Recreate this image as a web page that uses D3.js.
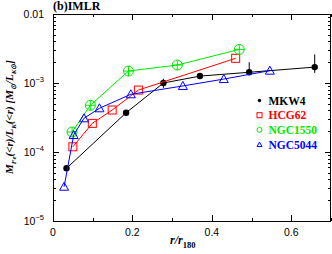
<!DOCTYPE html>
<html>
<head>
<meta charset="utf-8">
<script src="https://cdn.jsdelivr.net/npm/d3@7"></script>
<style>
	body { margin: 0; background: #fff; }
	svg { display: block; }
</style>
</head>
<body>
<div id="chart"></div>
<script>
	'use strict';

	// values
	var xTicks = [0, 0.2, 0.4, 0.6];
	var yTicks = [1e-5, 1e-4, 1e-3, 1e-2];
	var yTickLabels = ['10', '10', '10', '0.01'];
	var yTickExps = ['\u22125', '\u22124', '\u22123', ''];

	var mkw4R = [0.034, 0.184, 0.278, 0.37, 0.494, 0.659];
	var mkw4V = [5.8e-5, 3.7e-4, 1.0e-3, 1.26e-3, 1.43e-3, 1.7e-3];
	var mkw4Lo = [5.3e-5, 3.4e-4, 8.5e-4, 1.14e-3, 1.3e-3, 1.4e-3];
	var mkw4Hi = [6.4e-5, 4.0e-4, 1.15e-3, 1.38e-3, 2.0e-3, 2.6e-3];

	var hcgR = [0.05, 0.099, 0.149, 0.215, 0.46];
	var hcgV = [1.19e-4, 2.6e-4, 4.06e-4, 7.9e-4, 2.28e-3];

	var ngc1550R = [0.048, 0.094, 0.19, 0.313, 0.469];
	var ngc1550V = [1.95e-4, 4.75e-4, 1.49e-3, 1.82e-3, 3.07e-3];

	var ngc5044R = [0.028, 0.052, 0.078, 0.117, 0.196, 0.327, 0.43, 0.546];
	var ngc5044V = [3.14e-5, 1.76e-4, 3.08e-4, 4.3e-4, 6.86e-4, 9.06e-4, 1.14e-3, 1.51e-3];

	var legendNames = ['MKW4', 'HCG62', 'NGC1550', 'NGC5044'];
	var legendColors = ['#000000', '#ff0000', '#00e600', '#0000ff'];

	(function () {
		var width = 332, height = 254;
		var mLeft = 53, mRight = 331, mTop = 14, mBottom = 221;

		var svg = d3.select('#chart').append('svg')
			.attr('width', width)
			.attr('height', height);

		var x = d3.scaleLinear().domain([0, 0.7]).range([mLeft, mRight]);
		var y = d3.scaleLog().domain([1e-5, 1e-2]).range([mBottom, mTop]);

		var sans = 'Liberation Sans, Arial, sans-serif';
		var serif = 'Liberation Serif, Times New Roman, serif';

		// ticks, all pointing inward, mirrored on top / right
		var tk = svg.append('g').attr('stroke', '#000').attr('stroke-width', 1);
		x.ticks(7).forEach(function (v, i) {
			var len = (i % 2 === 0) ? 6 : 3;
			var px = Math.round(x(v)) + 0.5;
			tk.append('line').attr('x1', px).attr('x2', px).attr('y1', mBottom).attr('y2', mBottom - len);
			tk.append('line').attr('x1', px).attr('x2', px).attr('y1', mTop).attr('y2', mTop + len);
		});
		y.ticks().forEach(function (v) {
			var m = Math.round(v / Math.pow(10, Math.floor(Math.log10(v) + 1e-9)));
			var len = m === 1 ? 6 : 3;
			var py = Math.round(y(v)) + 0.5;
			tk.append('line').attr('x1', mLeft).attr('x2', mLeft + len).attr('y1', py).attr('y2', py);
			tk.append('line').attr('x1', mRight).attr('x2', mRight - len).attr('y1', py).attr('y2', py);
		});

		svg.append('rect')
			.attr('x', mLeft + 0.5).attr('y', mTop + 0.5)
			.attr('width', mRight - mLeft - 1).attr('height', mBottom - mTop)
			.attr('fill', 'none').attr('stroke', '#000').attr('stroke-width', 1);

		// tick labels
		svg.append('g').selectAll('text').data(xTicks).enter().append('text')
			.attr('x', function (d) { return x(d); })
			.attr('y', 236)
			.attr('text-anchor', 'middle')
			.style('font-family', sans).style('font-size', '10.5px')
			.text(function (d) { return d === 0 ? '0' : d3.format('.1f')(d); });

		var yl = svg.append('g').selectAll('text').data(yTicks).enter().append('text')
			.attr('x', 44)
			.attr('y', function (d) { return y(d) + 4; })
			.attr('text-anchor', 'end')
			.style('font-family', sans).style('font-size', '10.5px');
		yl.append('tspan').text(function (d, i) { return yTickLabels[i]; });
		yl.append('tspan').attr('dy', -5).style('font-size', '7.5px')
			.text(function (d, i) { return yTickExps[i]; });

		// axis titles
		var xt = svg.append('text')
			.attr('x', 170).attr('y', 244)
			.style('font-family', serif).style('font-size', '12px')
			.style('font-style', 'italic').style('font-weight', 'bold');
		xt.append('tspan').text('r/r');
		xt.append('tspan').attr('dy', 4).style('font-size', '8.5px').style('font-style', 'normal').text('180');

		var yt = svg.append('text')
			.attr('transform', 'translate(13,117) rotate(-90)')
			.attr('text-anchor', 'middle')
			.style('font-family', serif).style('font-size', '11px')
			.style('font-style', 'italic').style('font-weight', 'bold');
		yt.append('tspan').text('M');
		yt.append('tspan').attr('dy', 3).style('font-size', '7px').text('Fe');
		yt.append('tspan').attr('dy', -3).text('(<r)/L');
		yt.append('tspan').attr('dy', 3).style('font-size', '7px').text('K');
		yt.append('tspan').attr('dy', -3).text('(<r) [M');
		yt.append('tspan').attr('dy', 3).style('font-size', '7px').text('\u2299');
		yt.append('tspan').attr('dy', -3).text('/L');
		yt.append('tspan').attr('dy', 3).style('font-size', '7px').text('K\u2299');
		yt.append('tspan').attr('dy', -3).text(']');

		svg.append('text')
			.attr('x', 53).attr('y', 10)
			.style('font-family', serif).style('font-size', '12px').style('font-weight', 'bold')
			.text('(b)IMLR');

		var line = d3.line()
			.x(function (d) { return x(d[0]); })
			.y(function (d) { return y(d[1]); });

		function pairs(r, v) { return r.map(function (d, i) { return [d, v[i]]; }); }

		var plot = svg.append('g');

		// MKW4
		var mk = pairs(mkw4R, mkw4V);
		plot.append('path').attr('d', line(mk)).attr('fill', 'none').attr('stroke', legendColors[0]).attr('stroke-width', 1);
		plot.selectAll('.err').data(mk).enter().append('line')
			.attr('x1', function (d) { return x(d[0]); })
			.attr('x2', function (d) { return x(d[0]); })
			.attr('y1', function (d, i) { return y(mkw4Lo[i]); })
			.attr('y2', function (d, i) { return y(mkw4Hi[i]); })
			.attr('stroke', '#000').attr('stroke-width', 1);
		plot.selectAll('.mk').data(mk).enter().append('circle')
			.attr('cx', function (d) { return x(d[0]); })
			.attr('cy', function (d) { return y(d[1]); })
			.attr('r', 3.2).attr('fill', '#000');

		// HCG62
		var hc = pairs(hcgR, hcgV);
		plot.append('path').attr('d', line(hc)).attr('fill', 'none').attr('stroke', legendColors[1]).attr('stroke-width', 1);
		plot.selectAll('.hc').data(hc).enter().append('rect')
			.attr('x', function (d) { return x(d[0]) - 4; })
			.attr('y', function (d) { return y(d[1]) - 4; })
			.attr('width', 8).attr('height', 8)
			.attr('fill', 'none').attr('stroke', legendColors[1]).attr('stroke-width', 1);

		// NGC1550
		var ng = pairs(ngc1550R, ngc1550V);
		plot.append('path').attr('d', line(ng)).attr('fill', 'none').attr('stroke', legendColors[2]).attr('stroke-width', 1);
		var ngs = plot.selectAll('.ng').data(ng).enter().append('g')
			.attr('transform', function (d) { return 'translate(' + x(d[0]) + ',' + y(d[1]) + ')'; })
			.attr('stroke', legendColors[2]).attr('fill', 'none').attr('stroke-width', 1);
		ngs.append('circle').attr('r', 5);
		ngs.append('line').attr('x1', -5).attr('x2', 5);
		ngs.append('line').attr('y1', -5).attr('y2', 5);

		// NGC5044
		var nb = pairs(ngc5044R, ngc5044V);
		plot.append('path').attr('d', line(nb)).attr('fill', 'none').attr('stroke', legendColors[3]).attr('stroke-width', 1);
		plot.selectAll('.nb').data(nb).enter().append('path')
			.attr('transform', function (d) { return 'translate(' + x(d[0]) + ',' + y(d[1]) + ')'; })
			.attr('d', 'M-4.5,3.5L0,-4.5L4.5,3.5Z')
			.attr('fill', 'none').attr('stroke', legendColors[3]).attr('stroke-width', 1);

		// legend
		var lg = svg.append('g').selectAll('g').data(legendNames).enter().append('g')
			.attr('transform', function (d, i) { return 'translate(259.5,' + (100.5 + i * 14.7) + ')'; });
		lg.each(function (d, i) {
			var g = d3.select(this);
			var c = legendColors[i];
			if (i === 0) g.append('circle').attr('r', 1.7).attr('fill', c);
			if (i === 1) g.append('rect').attr('x', -2.5).attr('y', -2.5).attr('width', 5).attr('height', 5).attr('fill', 'none').attr('stroke', c);
			if (i === 2) g.append('circle').attr('r', 2.5).attr('fill', 'none').attr('stroke', c);
			if (i === 3) g.append('path').attr('d', 'M-2.5,2L0,-2.5L2.5,2Z').attr('fill', 'none').attr('stroke', c);
			g.append('text').attr('x', 9).attr('y', 4)
				.style('font-family', serif).style('font-size', '11.5px').style('font-weight', 'bold')
				.attr('fill', c).text(d);
		});
	}());
</script>
</body>
</html>
